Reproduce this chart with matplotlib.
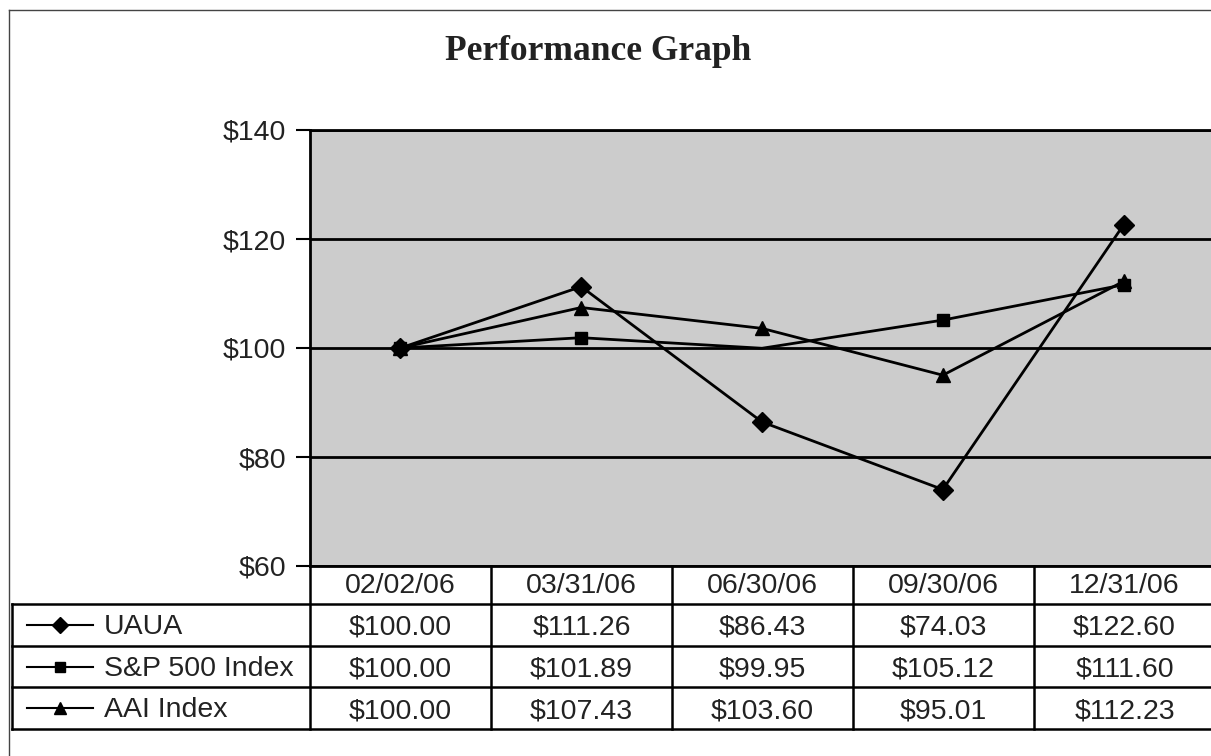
import matplotlib
matplotlib.use("Agg")
import matplotlib.pyplot as plt
from matplotlib.lines import Line2D

# data
dates = ["02/02/06", "03/31/06", "06/30/06", "09/30/06", "12/31/06"]
uaua = [100.00, 111.26, 86.43, 74.03, 122.60]
sp500 = [100.00, 101.89, 99.95, 105.12, 111.60]
aai = [100.00, 107.43, 103.60, 95.01, 112.23]
series_names = ["UAUA", "S&P 500 Index", "AAI Index"]
y_ticks = [60, 80, 100, 120, 140]

W, H = 1211, 756
fig = plt.figure(figsize=(W / 100, H / 100), dpi=100)
fig.patch.set_facecolor("white")

FONT = "Liberation Sans"
FS = 20.5

# outer frame (left + top edges visible)
fig.add_artist(Line2D([8.5 / W, 8.5 / W], [0, 1 - 10 / H], color="#444444", lw=1))
fig.add_artist(Line2D([8.5 / W, 1], [1 - 10 / H, 1 - 10 / H], color="#444444", lw=1))

fig.text(598 / W, 1 - 51 / H, "Performance Graph", ha="center", va="center",
         fontsize=25.5, fontweight="bold", family="Liberation Serif", color="#222222")

# plot area
left, right = 310, 1214
top, bottom = 130, 566
ax = fig.add_axes([left / W, 1 - bottom / H, (right - left) / W, (bottom - top) / H])
ax.set_facecolor("#cccccc")
x = list(range(len(dates)))
ax.set_xlim(-0.5, len(dates) - 0.5)
ax.set_ylim(60, 140)
ax.set_yticks(y_ticks)
ax.set_yticklabels([f"${v}" for v in y_ticks], fontsize=FS, family=FONT, color="#222222")
ax.set_xticks([])
ax.tick_params(axis="y", direction="out", length=10, width=1.5, pad=7)
ax.yaxis.grid(True, color="black", lw=2)
ax.set_axisbelow(True)
for s in ["left", "top", "bottom"]:
    ax.spines[s].set_linewidth(2)
ax.spines["right"].set_visible(False)

ax.plot(x, uaua, color="black", lw=2, marker="D", ms=10)
ax.plot(x, sp500, color="black", lw=2, marker="s", ms=9, markevery=[0, 1, 3, 4])
ax.plot(x, aai, color="black", lw=2, marker="^", ms=10)

# data table below
tab = fig.add_axes([0, 0, 1, 1], facecolor="none")
tab.set_xlim(0, W)
tab.set_ylim(H, 0)
tab.axis("off")

col_w = 181
t_left = 12
header_top, rows_top = 566, 604
row_h = 41.7
n_rows = len(series_names)
t_bottom = rows_top + n_rows * row_h
lw = 1.8

col_edges = [left + i * col_w for i in range(len(dates) + 1)]
# vertical lines
for cx in col_edges:
    tab.plot([cx, cx], [header_top, t_bottom], color="black", lw=lw)
tab.plot([t_left, t_left], [rows_top, t_bottom], color="black", lw=lw)
# horizontal lines
for r in range(n_rows + 1):
    yy = rows_top + r * row_h
    tab.plot([t_left, col_edges[-1]], [yy, yy], color="black", lw=lw)

for i, d in enumerate(dates):
    tab.text(left + (i + 0.5) * col_w, (header_top + rows_top) / 2 + 1, d,
             ha="center", va="center", fontsize=FS, family=FONT, color="#222222")

markers = ["D", "s", "^"]
sizes = [8, 7, 8]
for r, (name, vals) in enumerate(zip(series_names, [uaua, sp500, aai])):
    yc = rows_top + (r + 0.5) * row_h
    tab.plot([27, 93], [yc, yc], color="black", lw=1.5)
    tab.plot([60], [yc], color="black", marker=markers[r], ms=sizes[r])
    tab.text(104, yc + 2, name, ha="left", va="center", fontsize=FS, family=FONT, color="#222222")
    for i, v in enumerate(vals):
        tab.text(left + (i + 0.5) * col_w, yc + 3, f"${v:.2f}", ha="center", va="center",
                 fontsize=FS, family=FONT, color="#222222")

fig.savefig("out.png", dpi=100)
